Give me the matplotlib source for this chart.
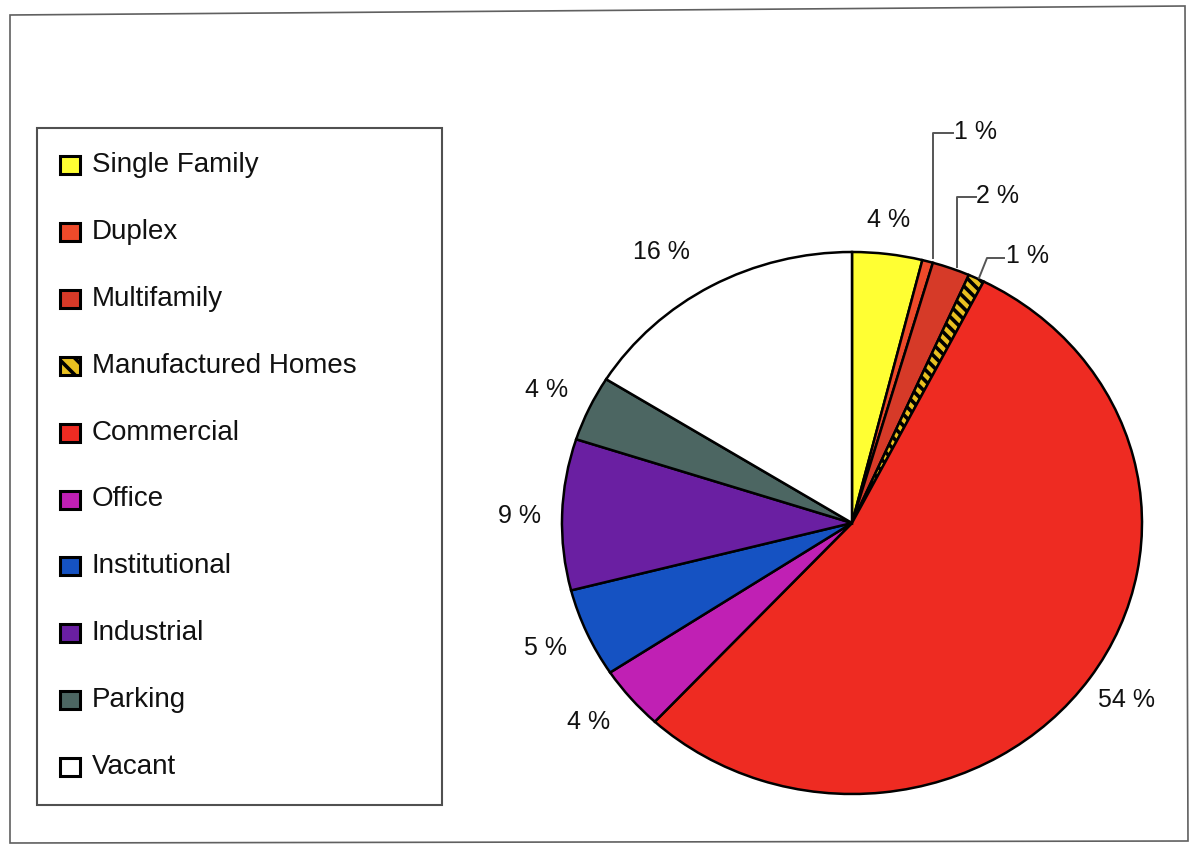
import matplotlib
matplotlib.use("Agg")
import matplotlib.pyplot as plt
from matplotlib.patches import Rectangle, Polygon
from matplotlib.lines import Line2D

plt.rcParams['font.family'] = ['Liberation Sans', 'DejaVu Sans']
plt.rcParams['hatch.linewidth'] = 2.6

# ---- data ----
categories = ["Single Family", "Duplex", "Multifamily", "Manufactured Homes",
              "Commercial", "Office", "Institutional", "Industrial",
              "Parking", "Vacant"]
shares = [3.9, 0.6, 2.1, 0.9, 54.4, 3.8, 5.3, 9.0, 3.9, 16.1]
colors = ["#FFFF33", "#EE4A2A", "#D63A28", "#E8C020", "#EE2B22",
          "#C020B4", "#1552C2", "#6A1FA2", "#4C6662", "#FFFFFF"]
hatches = [None, None, None, "\\\\\\", None, None, None, None, None, None]

W, H = 1191, 844
fig = plt.figure(figsize=(W / 100, H / 100), dpi=100)

def fx(px):
    return px / W

def fy(py):
    return 1 - py / H

# outer frame
frame = Polygon([(fx(10), fy(15)), (fx(1185), fy(6)), (fx(1188), fy(841)), (fx(10), fy(843))],
                closed=True, fill=False, edgecolor="#606060", linewidth=1.2,
                transform=fig.transFigure)
fig.patches.append(frame)

# ---- pie ----
cx, cy, rx, ry = 852, 523, 290, 271
lim = 1.1
ax = fig.add_axes([fx(cx - lim * rx), fy(cy + lim * ry), 2 * lim * rx / W, 2 * lim * ry / H])
wedges, _ = ax.pie(shares, colors=colors, startangle=90, counterclock=False,
                   wedgeprops=dict(edgecolor="black", linewidth=1.8))
for w, h in zip(wedges, hatches):
    if h:
        w.set_hatch(h)
ax.set_aspect("auto")
ax.set_xlim(-lim, lim)
ax.set_ylim(-lim, lim)
ax.axis("off")

# label layout (pixel centres) and leader lines
label_pos = [(889, 220), (975, 132), (998, 196), (1028, 256), (1126, 700),
             (589, 722), (545, 648), (519, 516), (547, 390), (661, 252)]
leaders = {1: [(933, 258), (933, 133), (953, 133)],
           2: [(957, 267), (957, 197), (976, 197)],
           3: [(979, 278), (987, 258), (1004, 258)]}
for i, (v, (px, py)) in enumerate(zip(shares, label_pos)):
    fig.text(fx(px), fy(py), f"{v:.0f} %", fontsize=18, ha="center", va="center",
             color="#111111")
    if i in leaders:
        pts = leaders[i]
        fig.lines.append(Line2D([fx(p[0]) for p in pts], [fy(p[1]) for p in pts],
                                color="#555555", linewidth=1.4, transform=fig.transFigure))

# ---- legend ----
fig.patches.append(Rectangle((fx(37), fy(805)), (442 - 37) / W, (805 - 128) / H,
                             fill=False, edgecolor="#505050", linewidth=1.5,
                             transform=fig.transFigure))
row0, step = 165, 66.9
for i, (name, c, h) in enumerate(zip(categories, colors, hatches)):
    yc = row0 + i * step
    sq = Rectangle((fx(60), fy(yc + 9)), 20 / W, 18 / H, facecolor=c,
                   edgecolor="black", linewidth=2.2, transform=fig.transFigure)
    if h:
        sq.set_hatch("\\\\")
    fig.patches.append(sq)
    fig.text(fx(92), fy(yc), name, fontsize=20, ha="left", va="center",
             color="#111111")

fig.savefig("out.png", dpi=100)
